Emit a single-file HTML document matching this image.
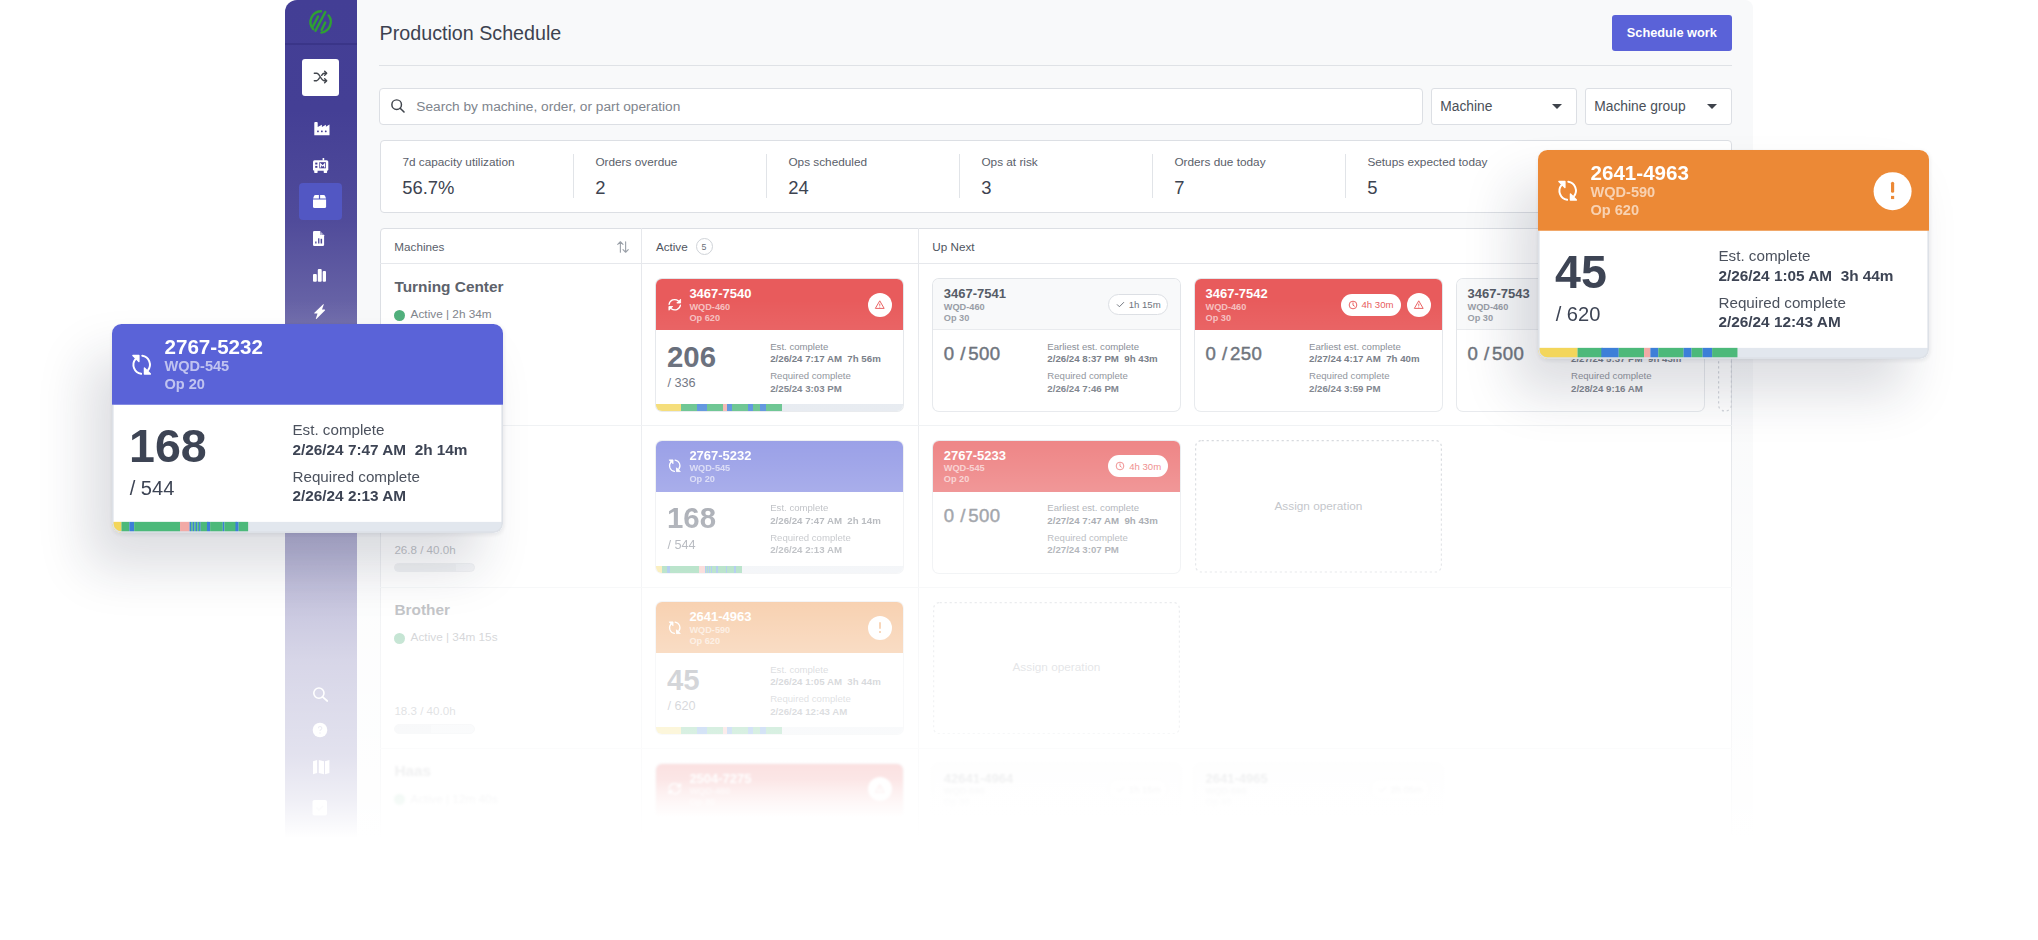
<!DOCTYPE html><html><head><meta charset="utf-8"><title>Production Schedule</title><style>
*{box-sizing:border-box;margin:0;padding:0}
html,body{width:2038px;height:940px;overflow:hidden;background:#fff;font-family:"Liberation Sans", sans-serif}
.card{position:absolute;width:247px;height:132px;border-radius:6px;background:#fff;overflow:hidden;box-shadow:0 0 0 1px #e3e6ea}
.card.next{box-shadow:0 0 0 1px #e2e5e9}
.hd{position:absolute;left:0;top:0;width:247px;height:51px}
.ic{position:absolute}
</style></head><body><div style="position:absolute;left:285px;top:0;width:1468px;height:940px;background:#f8f9fa;border-radius:12px 8px 0 0"></div><div style="position:absolute;left:285px;top:0;width:72px;height:940px;border-radius:12px 0 0 0;background:linear-gradient(#433e95 0px,#443f95 110px,#504b9a 220px,#6b67a8 320px,#6f6bab 560px,#7370ae 940px)"></div><div style="position:absolute;left:285px;top:43px;width:72px;height:1.5px;background:#3a3588"></div><svg width="32" height="32" viewBox="0 0 32 32" style="position:absolute;left:305px;top:6px"><g fill="none" stroke="#2fa034" stroke-width="2.4" stroke-linecap="round"><path d="M16 5.2A10.8 10.8 0 0 0 8.3 23.2"/><path d="M7.8 20.5L13 10.5"/><path d="M10.5 24.8L20.3 6"/><path d="M23.6 9.4A10.8 10.8 0 0 1 16.4 26.6"/><path d="M16.6 24L20.2 16.6"/></g></svg><div style="position:absolute;left:302px;top:59px;width:37px;height:36.5px;background:#fff;border-radius:3px"></div><svg width="16" height="16" viewBox="0 0 24 24" style="position:absolute;left:312.5px;top:69px"><g fill="none" stroke="#43474e" stroke-width="2.2" stroke-linecap="round" stroke-linejoin="round"><path d="M2 6.5h3.5c4.5 0 6.5 11 11 11H20"/><path d="M2 17.5h3.5c2 0 3.2-2 4.3-4.3M13 9.5c1.2-1.8 2.3-3 4-3H20"/><path d="M17.5 3.5l3 3-3 3M17.5 14.5l3 3-3 3"/></g></svg><div style="position:absolute;left:299px;top:183px;width:43px;height:37px;background:#5257c3;border-radius:4px"></div><svg width="16" height="14" viewBox="0 0 16 14" style="position:absolute;left:313.8px;top:121.9px"><path d="M0.3 13.2V0.9Q0.3 0 1.2 0H2.9Q3.7 0 3.7 0.9V4.9L7.9 2.7V4.9L11.9 2.7V4.8L15.5 2.6V13.2Z" fill="#fff"/><rect x="3.1" y="8.5" width="1.7" height="1.7" rx=".4" fill="#453f95"/><rect x="7" y="8.5" width="1.7" height="1.7" rx=".4" fill="#453f95"/><rect x="10.9" y="8.5" width="1.7" height="1.7" rx=".4" fill="#453f95"/></svg><svg width="16" height="15" viewBox="0 0 16 15" style="position:absolute;left:312.9px;top:157.8px"><rect x="0" y="2.2" width="15.3" height="10.6" rx="1.6" fill="#fff"/><rect x="1.2" y="12" width="3.4" height="2.9" rx=".6" fill="#fff"/><rect x="10.7" y="12" width="3.4" height="2.9" rx=".6" fill="#fff"/><rect x="9.6" y="0" width="1.6" height="2.6" fill="#fff"/><rect x="2.2" y="4.6" width="2.2" height="1.9" fill="#463f96"/><rect x="2.2" y="7.9" width="2.2" height="1.9" fill="#463f96"/><rect x="6.3" y="4.2" width="6.6" height="6.1" fill="#463f96"/><path d="M7.6 9.4V6l2.2 1.9L11.6 6v3.4" fill="none" stroke="#fff" stroke-width="1.1"/></svg><svg width="14" height="14" viewBox="0 0 14 14" style="position:absolute;left:313px;top:195.4px"><path d="M0 4.6H13.1V11.6Q13.1 13.1 11.6 13.1H1.5Q0 13.1 0 11.6Z" fill="#fff"/><path d="M2.6 0H5.9V3.6H0.1L0.8 1.4Q1.3 0 2.6 0ZM7.1 0H10.5Q11.8 0 12.3 1.4L13 3.6H7.1Z" fill="#fff"/></svg><svg width="12" height="16" viewBox="0 0 12 16" style="position:absolute;left:313px;top:231.2px"><path d="M1.3 0H6.9L11.1 4.2V13.7Q11.1 15 9.8 15H1.3Q0 15 0 13.7V1.3Q0 0 1.3 0Z" fill="#fff"/><path d="M7.3 0.8V3.8H10.3Z" fill="#4c4799"/><path d="M7.6 1.6V3.5H9.5Z" fill="#fff"/><rect x="2.2" y="10.5" width="1.3" height="2" fill="#4c4799"/><rect x="5.1" y="7.3" width="1.3" height="5.2" fill="#4c4799"/><rect x="7.6" y="7.8" width="1.5" height="4.7" fill="#4c4799"/></svg><svg width="14" height="14" viewBox="0 0 14 14" style="position:absolute;left:313px;top:269px"><rect x="0" y="5.1" width="3.8" height="7.7" rx="1" fill="#fff"/><rect x="4.8" y="0" width="3.9" height="12.8" rx="1" fill="#fff"/><rect x="9.7" y="1.9" width="3.3" height="10.9" rx="1" fill="#fff"/></svg><svg width="12" height="16" viewBox="0 0 12 16" style="position:absolute;left:313.9px;top:304.4px"><path d="M9.2 0.2Q9.9 -.1 9.7 .7L8 5.6H10.6Q11.4 5.7 10.9 6.4L2.4 14.9Q1.7 15.3 1.9 14.5L3.5 9.5H0.7Q-.1 9.4 .4 8.7Z" fill="#fff"/></svg><svg width="16" height="16" viewBox="0 0 16 16" style="position:absolute;left:312px;top:685.5px"><circle cx="6.9" cy="7.1" r="5.1" fill="none" stroke="#fff" stroke-width="1.6"/><path d="M10.6 10.8L15.3 15" stroke="#fff" stroke-width="1.7" stroke-linecap="round"/></svg><svg width="16" height="16" viewBox="0 0 16 16" style="position:absolute;left:312.3px;top:722.4px"><circle cx="8" cy="8" r="7.3" fill="#fff"/><path d="M6.4 6.3a1.7 1.7 0 1 1 2.4 1.5c-.5.3-.8.6-.8 1.2" fill="none" stroke="#a9a8cc" stroke-width="1.1"/><circle cx="8" cy="11" r=".7" fill="#a9a8cc"/></svg><svg width="17" height="15" viewBox="0 0 17 15" style="position:absolute;left:312.8px;top:760.4px"><path d="M0 1.2L4.1 0V13L0 14.2ZM5.8 0L11 1.2V14.2L5.8 13ZM12 1.2L16.4 0V13L12 14.2Z" fill="#fff"/></svg><svg width="16" height="18" viewBox="0 0 16 18" style="position:absolute;left:312px;top:797.6px"><rect x="0.5" y="2" width="14.5" height="15.5" rx="1.8" fill="#fff"/><path d="M4.5 9.5l2.5 2.5 4-4" stroke="#d8d7e8" stroke-width="1.6" fill="none"/></svg><div style="position:absolute;left:379.60px;top:23.92px;font-size:19.7px;line-height:19.7px;font-weight:400;color:#3c4250;white-space:nowrap;">Production Schedule</div><div style="position:absolute;left:1612px;top:15px;width:120px;height:36px;background:#5a62d8;border-radius:3px"></div><div style="position:absolute;left:1626.80px;top:27.41px;font-size:12.75px;line-height:12.75px;font-weight:700;color:#fff;white-space:nowrap;">Schedule work</div><div style="position:absolute;left:379px;top:65px;width:1353px;height:1px;background:#dfe2e6"></div><div style="position:absolute;left:379px;top:88px;width:1044px;height:36.5px;background:#fff;border:1px solid #dcdfe4;border-radius:4px"></div><svg width="16" height="16" viewBox="0 0 24 24" style="position:absolute;left:389.5px;top:98px"><circle cx="10" cy="10" r="7.2" fill="none" stroke="#3f444c" stroke-width="2.2"/><path d="M15.3 15.3L21 21" stroke="#3f444c" stroke-width="2.4" stroke-linecap="round"/></svg><div style="position:absolute;left:416.30px;top:99.70px;font-size:13.7px;line-height:13.7px;font-weight:400;color:#80858d;white-space:nowrap;">Search by machine, order, or part operation</div><div style="position:absolute;left:1431px;top:88px;width:146px;height:36.5px;background:#fff;border:1px solid #dcdfe4;border-radius:3px"></div><div style="position:absolute;left:1440.30px;top:100.32px;font-size:13.8px;line-height:13.8px;font-weight:400;color:#4a4f58;white-space:nowrap;">Machine</div><div style="position:absolute;left:1552px;top:104px;width:0;height:0;border-left:5.5px solid transparent;border-right:5.5px solid transparent;border-top:5.5px solid #3e434b"></div><div style="position:absolute;left:1585px;top:88px;width:147px;height:36.5px;background:#fff;border:1px solid #dcdfe4;border-radius:3px"></div><div style="position:absolute;left:1594.30px;top:100.32px;font-size:13.8px;line-height:13.8px;font-weight:400;color:#4a4f58;white-space:nowrap;">Machine group</div><div style="position:absolute;left:1707px;top:104px;width:0;height:0;border-left:5.5px solid transparent;border-right:5.5px solid transparent;border-top:5.5px solid #3e434b"></div><div style="position:absolute;left:379.5px;top:140px;width:1352.5px;height:72.5px;background:#fff;border:1px solid #dcdfe4;border-radius:4px"></div><div style="position:absolute;left:402.40px;top:157.01px;font-size:11.8px;line-height:11.8px;font-weight:400;color:#5a606a;white-space:nowrap;">7d capacity utilization</div><div style="position:absolute;left:402.20px;top:179.22px;font-size:18.4px;line-height:18.4px;font-weight:400;color:#3d4350;white-space:nowrap;">56.7%</div><div style="position:absolute;left:572.5px;top:154px;width:1px;height:43.5px;background:#e1e4e8"></div><div style="position:absolute;left:595.40px;top:157.01px;font-size:11.8px;line-height:11.8px;font-weight:400;color:#5a606a;white-space:nowrap;">Orders overdue</div><div style="position:absolute;left:595.20px;top:179.22px;font-size:18.4px;line-height:18.4px;font-weight:400;color:#3d4350;white-space:nowrap;">2</div><div style="position:absolute;left:765.5px;top:154px;width:1px;height:43.5px;background:#e1e4e8"></div><div style="position:absolute;left:788.40px;top:157.01px;font-size:11.8px;line-height:11.8px;font-weight:400;color:#5a606a;white-space:nowrap;">Ops scheduled</div><div style="position:absolute;left:788.20px;top:179.22px;font-size:18.4px;line-height:18.4px;font-weight:400;color:#3d4350;white-space:nowrap;">24</div><div style="position:absolute;left:958.5px;top:154px;width:1px;height:43.5px;background:#e1e4e8"></div><div style="position:absolute;left:981.40px;top:157.01px;font-size:11.8px;line-height:11.8px;font-weight:400;color:#5a606a;white-space:nowrap;">Ops at risk</div><div style="position:absolute;left:981.20px;top:179.22px;font-size:18.4px;line-height:18.4px;font-weight:400;color:#3d4350;white-space:nowrap;">3</div><div style="position:absolute;left:1151.5px;top:154px;width:1px;height:43.5px;background:#e1e4e8"></div><div style="position:absolute;left:1174.40px;top:157.01px;font-size:11.8px;line-height:11.8px;font-weight:400;color:#5a606a;white-space:nowrap;">Orders due today</div><div style="position:absolute;left:1174.20px;top:179.22px;font-size:18.4px;line-height:18.4px;font-weight:400;color:#3d4350;white-space:nowrap;">7</div><div style="position:absolute;left:1344.5px;top:154px;width:1px;height:43.5px;background:#e1e4e8"></div><div style="position:absolute;left:1367.40px;top:157.01px;font-size:11.8px;line-height:11.8px;font-weight:400;color:#5a606a;white-space:nowrap;">Setups expected today</div><div style="position:absolute;left:1367.20px;top:179.22px;font-size:18.4px;line-height:18.4px;font-weight:400;color:#3d4350;white-space:nowrap;">5</div><div style="position:absolute;left:1537.5px;top:154px;display:none;width:1px;height:43.5px;background:#e1e4e8"></div><div style="position:absolute;left:379.5px;top:228px;width:1352.5px;height:712px;background:#fff;border:1px solid #dcdfe4;border-radius:4px 4px 0 0"></div><div style="position:absolute;left:380px;top:263px;width:1352px;height:1px;background:#e6e8ec"></div><div style="position:absolute;left:641px;top:228px;width:1px;height:712px;background:#e6e8ec"></div><div style="position:absolute;left:918px;top:228px;width:1px;height:712px;background:#e6e8ec"></div><div style="position:absolute;left:380px;top:425px;width:1352px;height:1px;background:#eceef1"></div><div style="position:absolute;left:380px;top:586.5px;width:1352px;height:1px;background:#eceef1"></div><div style="position:absolute;left:380px;top:748px;width:1352px;height:1px;background:#eceef1"></div><div style="position:absolute;left:394.30px;top:241.00px;font-size:11.7px;line-height:11.7px;font-weight:400;color:#5a606a;white-space:nowrap;">Machines</div><svg width="14" height="14" viewBox="0 0 24 24" style="position:absolute;left:615.5px;top:239.5px"><g fill="none" stroke="#9aa0a8" stroke-width="1.9" stroke-linecap="round" stroke-linejoin="round"><path d="M7.5 21V3M3 7.5L7.5 3 12 7.5"/><path d="M16.5 3v18M12 16.5l4.5 4.5 4.5-4.5"/></g></svg><div style="position:absolute;left:655.90px;top:241.00px;font-size:11.7px;line-height:11.7px;font-weight:400;color:#4f5560;white-space:nowrap;">Active</div><div style="position:absolute;left:696px;top:238px;width:17px;height:17px;border:1px solid #cfd3d8;border-radius:50%"></div><div style="position:absolute;left:701.50px;top:242.55px;font-size:8.8px;line-height:8.8px;font-weight:400;color:#6a7079;white-space:nowrap;">5</div><div style="position:absolute;left:932.30px;top:241.00px;font-size:11.7px;line-height:11.7px;font-weight:400;color:#4f5560;white-space:nowrap;">Up Next</div><div style="position:absolute;left:394.40px;top:278.96px;font-size:15.4px;line-height:15.4px;font-weight:700;color:#5d626b;white-space:nowrap;">Turning Center</div><div style="position:absolute;left:393.8px;top:309.5px;width:11px;height:11px;border-radius:50%;background:#4cae79"></div><div style="position:absolute;left:410.60px;top:309.11px;font-size:11.8px;line-height:11.8px;font-weight:400;color:#7d828a;white-space:nowrap;">Active | 2h 34m</div><div style="position:absolute;left:394.40px;top:382.18px;font-size:11.6px;line-height:11.6px;font-weight:400;color:#80858d;white-space:nowrap;">32.1 / 40.0h</div><div style="position:absolute;left:394px;top:401.0px;width:81px;height:9.5px;border-radius:5px;background:#e9ecf0;border:1px solid #e0e3e7"></div><div style="position:absolute;left:395px;top:402.0px;width:49.6px;height:7.5px;border-radius:4px 0 0 4px;background:#dfe3e8"></div><div style="position:absolute;left:394.40px;top:440.46px;font-size:15.4px;line-height:15.4px;font-weight:700;color:#5d626b;white-space:nowrap;">Okuma</div><div style="position:absolute;left:393.8px;top:471px;width:11px;height:11px;border-radius:50%;background:#4cae79"></div><div style="position:absolute;left:410.60px;top:470.61px;font-size:11.8px;line-height:11.8px;font-weight:400;color:#7d828a;white-space:nowrap;">Active | 1h 12m</div><div style="position:absolute;left:394.40px;top:543.68px;font-size:11.6px;line-height:11.6px;font-weight:400;color:#80858d;white-space:nowrap;">26.8 / 40.0h</div><div style="position:absolute;left:394px;top:562.5px;width:81px;height:9.5px;border-radius:5px;background:#e9ecf0;border:1px solid #e0e3e7"></div><div style="position:absolute;left:395px;top:563.5px;width:60.8px;height:7.5px;border-radius:4px 0 0 4px;background:#dfe3e8"></div><div style="position:absolute;left:394.40px;top:601.96px;font-size:15.4px;line-height:15.4px;font-weight:700;color:#5d626b;white-space:nowrap;">Brother</div><div style="position:absolute;left:393.8px;top:632.5px;width:11px;height:11px;border-radius:50%;background:#4cae79"></div><div style="position:absolute;left:410.60px;top:632.11px;font-size:11.8px;line-height:11.8px;font-weight:400;color:#7d828a;white-space:nowrap;">Active | 34m 15s</div><div style="position:absolute;left:394.40px;top:705.18px;font-size:11.6px;line-height:11.6px;font-weight:400;color:#80858d;white-space:nowrap;">18.3 / 40.0h</div><div style="position:absolute;left:394px;top:724.0px;width:81px;height:9.5px;border-radius:5px;background:#e9ecf0;border:1px solid #e0e3e7"></div><div style="position:absolute;left:395px;top:725.0px;width:36.0px;height:7.5px;border-radius:4px 0 0 4px;background:#dfe3e8"></div><div style="position:absolute;left:0;top:0;width:700px;height:940px;opacity:.55;filter:blur(.8px)"><div style="position:absolute;left:394.40px;top:763.46px;font-size:15.4px;line-height:15.4px;font-weight:700;color:#5d626b;white-space:nowrap;">Haas</div><div style="position:absolute;left:393.8px;top:794px;width:11px;height:11px;border-radius:50%;background:#4cae79"></div><div style="position:absolute;left:410.60px;top:793.61px;font-size:11.8px;line-height:11.8px;font-weight:400;color:#7d828a;white-space:nowrap;">Active | 12m 40s</div></div><div class="card" style="left:656.2px;top:279.3px;"><div class="hd" style="background:#e85b5c"></div><svg viewBox="0 0 24 24" width="17.5" height="17.5" style="position:absolute;left:9.6px;top:16.7px;transform:rotate(0deg)"><g fill="none" stroke="#fff" stroke-width="1.7" stroke-linecap="round"><path d="M4.2 11.5A7.8 7.8 0 0 1 16.8 6.6"/><path d="M19.8 12.5A7.8 7.8 0 0 1 7.2 17.4"/></g><path d="M14.8 9.6L20 9.6L20 4.4Z" fill="#fff" stroke="#fff" stroke-width="1.2" stroke-linejoin="round"/><path d="M9.2 14.4L4 14.4L4 19.6Z" fill="#fff" stroke="#fff" stroke-width="1.2" stroke-linejoin="round"/></svg><div style="position:absolute;left:33.20px;top:8.10px;font-size:13px;line-height:13px;font-weight:700;color:#fff;white-space:nowrap;">3467-7540</div><div style="position:absolute;left:33.20px;top:23.31px;font-size:9.2px;line-height:9.2px;font-weight:700;color:rgba(255,255,255,.62);white-space:nowrap;">WQD-460</div><div style="position:absolute;left:33.20px;top:34.31px;font-size:9.2px;line-height:9.2px;font-weight:700;color:rgba(255,255,255,.62);white-space:nowrap;">Op 620</div><div style="position:absolute;left:211.8px;top:13.5px;width:24px;height:24px;border-radius:50%;background:#fff"><svg viewBox="0 0 24 24" width="11.5" height="11.5" style="position:absolute;left:6.25px;top:5.8px"><path d="M12 3.8L21.2 19.6H2.8Z" fill="none" stroke="#e85b5c" stroke-width="2" stroke-linejoin="round"/><path d="M12 9.8v4.4" stroke="#e85b5c" stroke-width="2"/><circle cx="12" cy="16.8" r="1.1" fill="#e85b5c"/></svg></div><div style="position:absolute;left:10.80px;top:62.31px;font-size:29.4px;line-height:29.4px;font-weight:700;color:#59606e;white-space:nowrap;">206</div><div style="position:absolute;left:11.20px;top:97.95px;font-size:12.7px;line-height:12.7px;font-weight:400;color:#59606e;white-space:nowrap;">/ 336</div><div style="position:absolute;left:114.00px;top:62.47px;font-size:9.6px;line-height:9.6px;font-weight:400;color:#80858e;white-space:nowrap;">Est. complete</div><div style="position:absolute;left:114.00px;top:75.09px;font-size:9.7px;line-height:9.7px;font-weight:700;color:#6a707a;white-space:nowrap;">2/26/24 7:17 AM&nbsp; 7h 56m</div><div style="position:absolute;left:114.00px;top:91.87px;font-size:9.6px;line-height:9.6px;font-weight:400;color:#80858e;white-space:nowrap;">Required complete</div><div style="position:absolute;left:114.00px;top:104.39px;font-size:9.7px;line-height:9.7px;font-weight:700;color:#6a707a;white-space:nowrap;">2/25/24 3:03 PM</div><div style="position:absolute;left:0;top:124.8px;width:247px;height:7.2px;background:#e2e7ee"><div style="position:absolute;left:0px;top:0;width:24.95px;height:100%;background:#f3d65b"></div><div style="position:absolute;left:24.7px;top:0;width:15.95px;height:100%;background:#4cb97a"></div><div style="position:absolute;left:40.4px;top:0;width:10.75px;height:100%;background:#3d7fd8"></div><div style="position:absolute;left:50.9px;top:0;width:16.05px;height:100%;background:#4cb97a"></div><div style="position:absolute;left:66.7px;top:0;width:4.45px;height:100%;background:#f2aaa6"></div><div style="position:absolute;left:70.9px;top:0;width:5.35px;height:100%;background:#3d7fd8"></div><div style="position:absolute;left:76px;top:0;width:16.15px;height:100%;background:#4cb97a"></div><div style="position:absolute;left:91.9px;top:0;width:5.05px;height:100%;background:#3d7fd8"></div><div style="position:absolute;left:96.7px;top:0;width:7.45px;height:100%;background:#4cb97a"></div><div style="position:absolute;left:103.9px;top:0;width:5.85px;height:100%;background:#3d7fd8"></div><div style="position:absolute;left:109.5px;top:0;width:16.65px;height:100%;background:#4cb97a"></div></div></div><div class="card next" style="left:933.3px;top:279.3px;"><div class="hd" style="background:#f8f9fa;border-bottom:1px solid #e8eaed"></div><div style="position:absolute;left:10.50px;top:8.10px;font-size:13px;line-height:13px;font-weight:700;color:#565c67;white-space:nowrap;">3467-7541</div><div style="position:absolute;left:10.50px;top:23.31px;font-size:9.2px;line-height:9.2px;font-weight:700;color:#979ca5;white-space:nowrap;">WQD-460</div><div style="position:absolute;left:10.50px;top:34.31px;font-size:9.2px;line-height:9.2px;font-weight:700;color:#979ca5;white-space:nowrap;">Op 30</div><div style="position:absolute;left:174.9px;top:14.7px;width:60px;height:21.5px;border-radius:11px;background:#fff;border:1px solid #dcdfe4"><svg viewBox="0 0 24 24" width="9" height="9" style="position:absolute;left:7px;top:5.3px"><path d="M3.5 12.5l5.5 5.5L20.5 6.5" fill="none" stroke="#6e737c" stroke-width="2.6" stroke-linecap="round" stroke-linejoin="round"/></svg><div style="position:absolute;left:19.5px;top:3.3px;font-size:9.6px;line-height:13px;color:#6e737c;white-space:nowrap">1h 15m</div></div><div style="position:absolute;left:10.50px;top:65.96px;font-size:18.6px;line-height:18.6px;font-weight:400;color:#60666f;white-space:nowrap;letter-spacing:.45px;-webkit-text-stroke:.45px #60666f">0&nbsp;/<span style="margin-left:2.4px">500</span></div><div style="position:absolute;left:114.00px;top:62.47px;font-size:9.6px;line-height:9.6px;font-weight:400;color:#80858e;white-space:nowrap;">Earliest est. complete</div><div style="position:absolute;left:114.00px;top:75.09px;font-size:9.7px;line-height:9.7px;font-weight:700;color:#6a707a;white-space:nowrap;">2/26/24 8:37 PM&nbsp; 9h 43m</div><div style="position:absolute;left:114.00px;top:91.87px;font-size:9.6px;line-height:9.6px;font-weight:400;color:#80858e;white-space:nowrap;">Required complete</div><div style="position:absolute;left:114.00px;top:104.39px;font-size:9.7px;line-height:9.7px;font-weight:700;color:#6a707a;white-space:nowrap;">2/26/24 7:46 PM</div></div><div class="card" style="left:1195px;top:279.3px;"><div class="hd" style="background:#e85b5c"></div><div style="position:absolute;left:10.50px;top:8.10px;font-size:13px;line-height:13px;font-weight:700;color:#fff;white-space:nowrap;">3467-7542</div><div style="position:absolute;left:10.50px;top:23.31px;font-size:9.2px;line-height:9.2px;font-weight:700;color:rgba(255,255,255,.62);white-space:nowrap;">WQD-460</div><div style="position:absolute;left:10.50px;top:34.31px;font-size:9.2px;line-height:9.2px;font-weight:700;color:rgba(255,255,255,.62);white-space:nowrap;">Op 30</div><div style="position:absolute;left:145.5px;top:14.7px;width:60px;height:22px;border-radius:11px;background:#fff"><svg viewBox="0 0 24 24" width="10" height="10" style="position:absolute;left:7.3px;top:6px"><circle cx="12" cy="12" r="9.2" fill="none" stroke="#e85b5c" stroke-width="2.3"/><path d="M12 6.8v5.6l3.2 2.2" fill="none" stroke="#e85b5c" stroke-width="2.3" stroke-linecap="round"/></svg><div style="position:absolute;left:21px;top:4.3px;font-size:9.6px;line-height:13px;color:#e85b5c;white-space:nowrap">4h 30m</div></div><div style="position:absolute;left:211.5px;top:13.5px;width:24px;height:24px;border-radius:50%;background:#fff"><svg viewBox="0 0 24 24" width="11.5" height="11.5" style="position:absolute;left:6.25px;top:5.8px"><path d="M12 3.8L21.2 19.6H2.8Z" fill="none" stroke="#e85b5c" stroke-width="2" stroke-linejoin="round"/><path d="M12 9.8v4.4" stroke="#e85b5c" stroke-width="2"/><circle cx="12" cy="16.8" r="1.1" fill="#e85b5c"/></svg></div><div style="position:absolute;left:10.50px;top:65.96px;font-size:18.6px;line-height:18.6px;font-weight:400;color:#60666f;white-space:nowrap;letter-spacing:.45px;-webkit-text-stroke:.45px #60666f">0&nbsp;/<span style="margin-left:2.4px">250</span></div><div style="position:absolute;left:114.00px;top:62.47px;font-size:9.6px;line-height:9.6px;font-weight:400;color:#80858e;white-space:nowrap;">Earliest est. complete</div><div style="position:absolute;left:114.00px;top:75.09px;font-size:9.7px;line-height:9.7px;font-weight:700;color:#6a707a;white-space:nowrap;">2/27/24 4:17 AM&nbsp; 7h 40m</div><div style="position:absolute;left:114.00px;top:91.87px;font-size:9.6px;line-height:9.6px;font-weight:400;color:#80858e;white-space:nowrap;">Required complete</div><div style="position:absolute;left:114.00px;top:104.39px;font-size:9.7px;line-height:9.7px;font-weight:700;color:#6a707a;white-space:nowrap;">2/26/24 3:59 PM</div></div><div class="card next" style="left:1457px;top:279.3px;"><div class="hd" style="background:#f8f9fa;border-bottom:1px solid #e8eaed"></div><div style="position:absolute;left:10.50px;top:8.10px;font-size:13px;line-height:13px;font-weight:700;color:#565c67;white-space:nowrap;">3467-7543</div><div style="position:absolute;left:10.50px;top:23.31px;font-size:9.2px;line-height:9.2px;font-weight:700;color:#979ca5;white-space:nowrap;">WQD-460</div><div style="position:absolute;left:10.50px;top:34.31px;font-size:9.2px;line-height:9.2px;font-weight:700;color:#979ca5;white-space:nowrap;">Op 30</div><div style="position:absolute;left:10.50px;top:65.96px;font-size:18.6px;line-height:18.6px;font-weight:400;color:#60666f;white-space:nowrap;letter-spacing:.45px;-webkit-text-stroke:.45px #60666f">0&nbsp;/<span style="margin-left:2.4px">500</span></div><div style="position:absolute;left:114.00px;top:62.47px;font-size:9.6px;line-height:9.6px;font-weight:400;color:#80858e;white-space:nowrap;">Earliest est. complete</div><div style="position:absolute;left:114.00px;top:75.09px;font-size:9.7px;line-height:9.7px;font-weight:700;color:#6a707a;white-space:nowrap;">2/27/24 5:37 PM&nbsp; 9h 43m</div><div style="position:absolute;left:114.00px;top:91.87px;font-size:9.6px;line-height:9.6px;font-weight:400;color:#80858e;white-space:nowrap;">Required complete</div><div style="position:absolute;left:114.00px;top:104.39px;font-size:9.7px;line-height:9.7px;font-weight:700;color:#6a707a;white-space:nowrap;">2/28/24 9:16 AM</div></div><svg width="14" height="133" style="position:absolute;left:1718px;top:279px"><rect x="0.6" y="0.6" width="12.8" height="131.4" rx="6" fill="none" stroke="#c9cdd3" stroke-width="1.2" stroke-dasharray="2.2 2.8"/></svg><div class="card" style="left:656.2px;top:440.8px;opacity:.82"><div class="hd" style="background:#5a63d8"></div><svg viewBox="0 0 24 24" width="17.5" height="17.5" style="position:absolute;left:9.6px;top:16.7px;transform:rotate(90deg)"><g fill="none" stroke="#fff" stroke-width="1.7" stroke-linecap="round"><path d="M4.2 11.5A7.8 7.8 0 0 1 16.8 6.6"/><path d="M19.8 12.5A7.8 7.8 0 0 1 7.2 17.4"/></g><path d="M14.8 9.6L20 9.6L20 4.4Z" fill="#fff" stroke="#fff" stroke-width="1.2" stroke-linejoin="round"/><path d="M9.2 14.4L4 14.4L4 19.6Z" fill="#fff" stroke="#fff" stroke-width="1.2" stroke-linejoin="round"/></svg><div style="position:absolute;left:33.20px;top:8.10px;font-size:13px;line-height:13px;font-weight:700;color:#fff;white-space:nowrap;">2767-5232</div><div style="position:absolute;left:33.20px;top:23.31px;font-size:9.2px;line-height:9.2px;font-weight:700;color:rgba(255,255,255,.62);white-space:nowrap;">WQD-545</div><div style="position:absolute;left:33.20px;top:34.31px;font-size:9.2px;line-height:9.2px;font-weight:700;color:rgba(255,255,255,.62);white-space:nowrap;">Op 20</div><div style="position:absolute;left:10.80px;top:62.31px;font-size:29.4px;line-height:29.4px;font-weight:700;color:#59606e;white-space:nowrap;">168</div><div style="position:absolute;left:11.20px;top:97.95px;font-size:12.7px;line-height:12.7px;font-weight:400;color:#59606e;white-space:nowrap;">/ 544</div><div style="position:absolute;left:114.00px;top:62.47px;font-size:9.6px;line-height:9.6px;font-weight:400;color:#80858e;white-space:nowrap;">Est. complete</div><div style="position:absolute;left:114.00px;top:75.09px;font-size:9.7px;line-height:9.7px;font-weight:700;color:#6a707a;white-space:nowrap;">2/26/24 7:47 AM&nbsp; 2h 14m</div><div style="position:absolute;left:114.00px;top:91.87px;font-size:9.6px;line-height:9.6px;font-weight:400;color:#80858e;white-space:nowrap;">Required complete</div><div style="position:absolute;left:114.00px;top:104.39px;font-size:9.7px;line-height:9.7px;font-weight:700;color:#6a707a;white-space:nowrap;">2/26/24 2:13 AM</div><div style="position:absolute;left:0;top:124.8px;width:247px;height:7.2px;background:#e2e7ee"><div style="position:absolute;left:0px;top:0;width:6.35px;height:100%;background:#f3d65b"></div><div style="position:absolute;left:6.1px;top:0;width:5.15px;height:100%;background:#4cb97a"></div><div style="position:absolute;left:11px;top:0;width:2.85px;height:100%;background:#3d7fd8"></div><div style="position:absolute;left:13.6px;top:0;width:29.15px;height:100%;background:#4cb97a"></div><div style="position:absolute;left:42.5px;top:0;width:6.35px;height:100%;background:#f2aaa6"></div><div style="position:absolute;left:48.9px;top:0;width:1.35px;height:100%;background:#3d7fd8"></div><div style="position:absolute;left:50px;top:0;width:1.05px;height:100%;background:#4cb97a"></div><div style="position:absolute;left:50.8px;top:0;width:1.35px;height:100%;background:#3d7fd8"></div><div style="position:absolute;left:51.9px;top:0;width:1.05px;height:100%;background:#4cb97a"></div><div style="position:absolute;left:52.7px;top:0;width:1.35px;height:100%;background:#3d7fd8"></div><div style="position:absolute;left:53.8px;top:0;width:1.05px;height:100%;background:#4cb97a"></div><div style="position:absolute;left:54.6px;top:0;width:1.25px;height:100%;background:#3d7fd8"></div><div style="position:absolute;left:55.6px;top:0;width:4.95px;height:100%;background:#4cb97a"></div><div style="position:absolute;left:60.3px;top:0;width:2.05px;height:100%;background:#3d7fd8"></div><div style="position:absolute;left:62.1px;top:0;width:7.75px;height:100%;background:#4cb97a"></div><div style="position:absolute;left:69.6px;top:0;width:1.65px;height:100%;background:#3d7fd8"></div><div style="position:absolute;left:71px;top:0;width:7.55px;height:100%;background:#4cb97a"></div><div style="position:absolute;left:78.3px;top:0;width:2.05px;height:100%;background:#3d7fd8"></div><div style="position:absolute;left:80.1px;top:0;width:5.45px;height:100%;background:#4cb97a"></div></div></div><div class="card" style="left:933.3px;top:440.8px;"><div class="hd" style="background:#e85b5c"></div><div style="position:absolute;left:10.50px;top:8.10px;font-size:13px;line-height:13px;font-weight:700;color:#fff;white-space:nowrap;">2767-5233</div><div style="position:absolute;left:10.50px;top:23.31px;font-size:9.2px;line-height:9.2px;font-weight:700;color:rgba(255,255,255,.62);white-space:nowrap;">WQD-545</div><div style="position:absolute;left:10.50px;top:34.31px;font-size:9.2px;line-height:9.2px;font-weight:700;color:rgba(255,255,255,.62);white-space:nowrap;">Op 20</div><div style="position:absolute;left:174.9px;top:14.7px;width:60px;height:22px;border-radius:11px;background:#fff"><svg viewBox="0 0 24 24" width="10" height="10" style="position:absolute;left:7.3px;top:6px"><circle cx="12" cy="12" r="9.2" fill="none" stroke="#e85b5c" stroke-width="2.3"/><path d="M12 6.8v5.6l3.2 2.2" fill="none" stroke="#e85b5c" stroke-width="2.3" stroke-linecap="round"/></svg><div style="position:absolute;left:21px;top:4.3px;font-size:9.6px;line-height:13px;color:#e85b5c;white-space:nowrap">4h 30m</div></div><div style="position:absolute;left:10.50px;top:65.96px;font-size:18.6px;line-height:18.6px;font-weight:400;color:#60666f;white-space:nowrap;letter-spacing:.45px;-webkit-text-stroke:.45px #60666f">0&nbsp;/<span style="margin-left:2.4px">500</span></div><div style="position:absolute;left:114.00px;top:62.47px;font-size:9.6px;line-height:9.6px;font-weight:400;color:#80858e;white-space:nowrap;">Earliest est. complete</div><div style="position:absolute;left:114.00px;top:75.09px;font-size:9.7px;line-height:9.7px;font-weight:700;color:#6a707a;white-space:nowrap;">2/27/24 7:47 AM&nbsp; 9h 43m</div><div style="position:absolute;left:114.00px;top:91.87px;font-size:9.6px;line-height:9.6px;font-weight:400;color:#80858e;white-space:nowrap;">Required complete</div><div style="position:absolute;left:114.00px;top:104.39px;font-size:9.7px;line-height:9.7px;font-weight:700;color:#6a707a;white-space:nowrap;">2/27/24 3:07 PM</div></div><div style="position:absolute;left:1195px;top:440.3px;width:247px;height:132.6px"><svg width="247" height="132.6" style="position:absolute;left:0;top:0"><rect x="0.6" y="0.6" width="245.8" height="131.4" rx="6" fill="none" stroke="#c9cdd3" stroke-width="1.2" stroke-dasharray="2.2 2.8"/></svg><div style="position:absolute;left:79.50px;top:60.31px;font-size:11.8px;line-height:11.8px;font-weight:400;color:#9ca1a9;white-space:nowrap;">Assign operation</div></div><div class="card" style="left:656.2px;top:602.3px;"><div class="hd" style="background:#ec8936"></div><svg viewBox="0 0 24 24" width="17.5" height="17.5" style="position:absolute;left:9.6px;top:16.7px;transform:rotate(90deg)"><g fill="none" stroke="#fff" stroke-width="1.7" stroke-linecap="round"><path d="M4.2 11.5A7.8 7.8 0 0 1 16.8 6.6"/><path d="M19.8 12.5A7.8 7.8 0 0 1 7.2 17.4"/></g><path d="M14.8 9.6L20 9.6L20 4.4Z" fill="#fff" stroke="#fff" stroke-width="1.2" stroke-linejoin="round"/><path d="M9.2 14.4L4 14.4L4 19.6Z" fill="#fff" stroke="#fff" stroke-width="1.2" stroke-linejoin="round"/></svg><div style="position:absolute;left:33.20px;top:8.10px;font-size:13px;line-height:13px;font-weight:700;color:#fff;white-space:nowrap;">2641-4963</div><div style="position:absolute;left:33.20px;top:23.31px;font-size:9.2px;line-height:9.2px;font-weight:700;color:rgba(255,255,255,.62);white-space:nowrap;">WQD-590</div><div style="position:absolute;left:33.20px;top:34.31px;font-size:9.2px;line-height:9.2px;font-weight:700;color:rgba(255,255,255,.62);white-space:nowrap;">Op 620</div><div style="position:absolute;left:211.8px;top:13.5px;width:24px;height:24px;border-radius:50%;background:#fff"><div style="position:absolute;left:11.2px;top:6.5px;width:1.6px;height:7px;background:#ec8936;border-radius:1px"></div><div style="position:absolute;left:11.2px;top:15.5px;width:1.6px;height:1.8px;background:#ec8936"></div></div><div style="position:absolute;left:10.80px;top:62.31px;font-size:29.4px;line-height:29.4px;font-weight:700;color:#59606e;white-space:nowrap;">45</div><div style="position:absolute;left:11.20px;top:97.95px;font-size:12.7px;line-height:12.7px;font-weight:400;color:#59606e;white-space:nowrap;">/ 620</div><div style="position:absolute;left:114.00px;top:62.47px;font-size:9.6px;line-height:9.6px;font-weight:400;color:#80858e;white-space:nowrap;">Est. complete</div><div style="position:absolute;left:114.00px;top:75.09px;font-size:9.7px;line-height:9.7px;font-weight:700;color:#6a707a;white-space:nowrap;">2/26/24 1:05 AM&nbsp; 3h 44m</div><div style="position:absolute;left:114.00px;top:91.87px;font-size:9.6px;line-height:9.6px;font-weight:400;color:#80858e;white-space:nowrap;">Required complete</div><div style="position:absolute;left:114.00px;top:104.39px;font-size:9.7px;line-height:9.7px;font-weight:700;color:#6a707a;white-space:nowrap;">2/26/24 12:43 AM</div><div style="position:absolute;left:0;top:124.8px;width:247px;height:7.2px;background:#e2e7ee"><div style="position:absolute;left:0px;top:0;width:24.95px;height:100%;background:#f3d65b"></div><div style="position:absolute;left:24.7px;top:0;width:15.95px;height:100%;background:#4cb97a"></div><div style="position:absolute;left:40.4px;top:0;width:10.75px;height:100%;background:#3d7fd8"></div><div style="position:absolute;left:50.9px;top:0;width:16.05px;height:100%;background:#4cb97a"></div><div style="position:absolute;left:66.7px;top:0;width:4.45px;height:100%;background:#f2aaa6"></div><div style="position:absolute;left:70.9px;top:0;width:5.35px;height:100%;background:#3d7fd8"></div><div style="position:absolute;left:76px;top:0;width:16.15px;height:100%;background:#4cb97a"></div><div style="position:absolute;left:91.9px;top:0;width:5.05px;height:100%;background:#3d7fd8"></div><div style="position:absolute;left:96.7px;top:0;width:7.45px;height:100%;background:#4cb97a"></div><div style="position:absolute;left:103.9px;top:0;width:5.85px;height:100%;background:#3d7fd8"></div><div style="position:absolute;left:109.5px;top:0;width:16.65px;height:100%;background:#4cb97a"></div></div></div><div style="position:absolute;left:933px;top:601.5px;width:247px;height:132.5px"><svg width="247" height="132.5" style="position:absolute;left:0;top:0"><rect x="0.6" y="0.6" width="245.8" height="131.3" rx="6" fill="none" stroke="#c9cdd3" stroke-width="1.2" stroke-dasharray="2.2 2.8"/></svg><div style="position:absolute;left:79.50px;top:60.26px;font-size:11.8px;line-height:11.8px;font-weight:400;color:#9ca1a9;white-space:nowrap;">Assign operation</div></div><div style="position:absolute;left:0;top:0;width:2038px;height:940px;filter:blur(1px);-webkit-mask-image:linear-gradient(#000 780px,transparent 822px);mask-image:linear-gradient(#000 780px,transparent 822px)"><div class="card" style="left:656.2px;top:763.8px;"><div class="hd" style="background:#e85b5c"></div><svg viewBox="0 0 24 24" width="17.5" height="17.5" style="position:absolute;left:9.6px;top:16.7px;transform:rotate(0deg)"><g fill="none" stroke="#fff" stroke-width="1.7" stroke-linecap="round"><path d="M4.2 11.5A7.8 7.8 0 0 1 16.8 6.6"/><path d="M19.8 12.5A7.8 7.8 0 0 1 7.2 17.4"/></g><path d="M14.8 9.6L20 9.6L20 4.4Z" fill="#fff" stroke="#fff" stroke-width="1.2" stroke-linejoin="round"/><path d="M9.2 14.4L4 14.4L4 19.6Z" fill="#fff" stroke="#fff" stroke-width="1.2" stroke-linejoin="round"/></svg><div style="position:absolute;left:33.20px;top:8.10px;font-size:13px;line-height:13px;font-weight:700;color:#fff;white-space:nowrap;">2504-7275</div><div style="position:absolute;left:33.20px;top:23.31px;font-size:9.2px;line-height:9.2px;font-weight:700;color:rgba(255,255,255,.62);white-space:nowrap;">WQD-460</div><div style="position:absolute;left:33.20px;top:34.31px;font-size:9.2px;line-height:9.2px;font-weight:700;color:rgba(255,255,255,.62);white-space:nowrap;">Op 30</div><div style="position:absolute;left:211.8px;top:13.5px;width:24px;height:24px;border-radius:50%;background:#fff"><svg viewBox="0 0 24 24" width="11.5" height="11.5" style="position:absolute;left:6.25px;top:5.8px"><path d="M12 3.8L21.2 19.6H2.8Z" fill="none" stroke="#e85b5c" stroke-width="2" stroke-linejoin="round"/><path d="M12 9.8v4.4" stroke="#e85b5c" stroke-width="2"/><circle cx="12" cy="16.8" r="1.1" fill="#e85b5c"/></svg></div><div style="position:absolute;left:10.80px;top:62.31px;font-size:29.4px;line-height:29.4px;font-weight:700;color:#59606e;white-space:nowrap;">88</div><div style="position:absolute;left:11.20px;top:97.95px;font-size:12.7px;line-height:12.7px;font-weight:400;color:#59606e;white-space:nowrap;">/ 300</div><div style="position:absolute;left:114.00px;top:62.47px;font-size:9.6px;line-height:9.6px;font-weight:400;color:#80858e;white-space:nowrap;">Est. complete</div><div style="position:absolute;left:114.00px;top:75.09px;font-size:9.7px;line-height:9.7px;font-weight:700;color:#6a707a;white-space:nowrap;">2/26/24 9:05 AM&nbsp; 5h 10m</div><div style="position:absolute;left:114.00px;top:91.87px;font-size:9.6px;line-height:9.6px;font-weight:400;color:#80858e;white-space:nowrap;">Required complete</div><div style="position:absolute;left:114.00px;top:104.39px;font-size:9.7px;line-height:9.7px;font-weight:700;color:#6a707a;white-space:nowrap;">2/26/24 6:00 PM</div><div style="position:absolute;left:0;top:124.8px;width:247px;height:7.2px;background:#e2e7ee"><div style="position:absolute;left:0px;top:0;width:24.95px;height:100%;background:#f3d65b"></div><div style="position:absolute;left:24.7px;top:0;width:15.95px;height:100%;background:#4cb97a"></div><div style="position:absolute;left:40.4px;top:0;width:10.75px;height:100%;background:#3d7fd8"></div><div style="position:absolute;left:50.9px;top:0;width:16.05px;height:100%;background:#4cb97a"></div><div style="position:absolute;left:66.7px;top:0;width:4.45px;height:100%;background:#f2aaa6"></div><div style="position:absolute;left:70.9px;top:0;width:5.35px;height:100%;background:#3d7fd8"></div><div style="position:absolute;left:76px;top:0;width:16.15px;height:100%;background:#4cb97a"></div><div style="position:absolute;left:91.9px;top:0;width:5.05px;height:100%;background:#3d7fd8"></div><div style="position:absolute;left:96.7px;top:0;width:7.45px;height:100%;background:#4cb97a"></div><div style="position:absolute;left:103.9px;top:0;width:5.85px;height:100%;background:#3d7fd8"></div><div style="position:absolute;left:109.5px;top:0;width:16.65px;height:100%;background:#4cb97a"></div></div></div><div style="position:absolute;left:0;top:0;width:2038px;height:940px;opacity:.6"><div class="card next" style="left:933.3px;top:763.8px;"><div class="hd" style="background:#f8f9fa;border-bottom:1px solid #e8eaed"></div><div style="position:absolute;left:10.50px;top:8.10px;font-size:13px;line-height:13px;font-weight:700;color:#565c67;white-space:nowrap;">42641-4964</div><div style="position:absolute;left:10.50px;top:23.31px;font-size:9.2px;line-height:9.2px;font-weight:700;color:#979ca5;white-space:nowrap;">WQD-590</div><div style="position:absolute;left:10.50px;top:34.31px;font-size:9.2px;line-height:9.2px;font-weight:700;color:#979ca5;white-space:nowrap;">Op 30</div><div style="position:absolute;left:174.9px;top:14.7px;width:60px;height:21.5px;border-radius:11px;background:#fff;border:1px solid #dcdfe4"><svg viewBox="0 0 24 24" width="9" height="9" style="position:absolute;left:7px;top:5.3px"><path d="M3.5 12.5l5.5 5.5L20.5 6.5" fill="none" stroke="#6e737c" stroke-width="2.6" stroke-linecap="round" stroke-linejoin="round"/></svg><div style="position:absolute;left:19.5px;top:3.3px;font-size:9.6px;line-height:13px;color:#6e737c;white-space:nowrap">1h 15m</div></div><div style="position:absolute;left:10.50px;top:65.96px;font-size:18.6px;line-height:18.6px;font-weight:400;color:#60666f;white-space:nowrap;letter-spacing:.45px;-webkit-text-stroke:.45px #60666f">0&nbsp;/<span style="margin-left:2.4px">400</span></div><div style="position:absolute;left:114.00px;top:62.47px;font-size:9.6px;line-height:9.6px;font-weight:400;color:#80858e;white-space:nowrap;">Earliest est. complete</div><div style="position:absolute;left:114.00px;top:75.09px;font-size:9.7px;line-height:9.7px;font-weight:700;color:#6a707a;white-space:nowrap;">2/27/24 7:47 AM&nbsp; 9h 43m</div><div style="position:absolute;left:114.00px;top:91.87px;font-size:9.6px;line-height:9.6px;font-weight:400;color:#80858e;white-space:nowrap;">Required complete</div><div style="position:absolute;left:114.00px;top:104.39px;font-size:9.7px;line-height:9.7px;font-weight:700;color:#6a707a;white-space:nowrap;">2/27/24 3:07 PM</div></div><div class="card next" style="left:1195px;top:763.8px;"><div class="hd" style="background:#f8f9fa;border-bottom:1px solid #e8eaed"></div><div style="position:absolute;left:10.50px;top:8.10px;font-size:13px;line-height:13px;font-weight:700;color:#565c67;white-space:nowrap;">2641-4965</div><div style="position:absolute;left:10.50px;top:23.31px;font-size:9.2px;line-height:9.2px;font-weight:700;color:#979ca5;white-space:nowrap;">WQD-590</div><div style="position:absolute;left:10.50px;top:34.31px;font-size:9.2px;line-height:9.2px;font-weight:700;color:#979ca5;white-space:nowrap;">Op 40</div><div style="position:absolute;left:174.9px;top:14.7px;width:60px;height:21.5px;border-radius:11px;background:#fff;border:1px solid #dcdfe4"><svg viewBox="0 0 24 24" width="9" height="9" style="position:absolute;left:7px;top:5.3px"><path d="M3.5 12.5l5.5 5.5L20.5 6.5" fill="none" stroke="#6e737c" stroke-width="2.6" stroke-linecap="round" stroke-linejoin="round"/></svg><div style="position:absolute;left:19.5px;top:3.3px;font-size:9.6px;line-height:13px;color:#6e737c;white-space:nowrap">2h 05m</div></div><div style="position:absolute;left:10.50px;top:65.96px;font-size:18.6px;line-height:18.6px;font-weight:400;color:#60666f;white-space:nowrap;letter-spacing:.45px;-webkit-text-stroke:.45px #60666f">0&nbsp;/<span style="margin-left:2.4px">400</span></div><div style="position:absolute;left:114.00px;top:62.47px;font-size:9.6px;line-height:9.6px;font-weight:400;color:#80858e;white-space:nowrap;">Earliest est. complete</div><div style="position:absolute;left:114.00px;top:75.09px;font-size:9.7px;line-height:9.7px;font-weight:700;color:#6a707a;white-space:nowrap;">2/27/24 7:47 AM&nbsp; 9h 43m</div><div style="position:absolute;left:114.00px;top:91.87px;font-size:9.6px;line-height:9.6px;font-weight:400;color:#80858e;white-space:nowrap;">Required complete</div><div style="position:absolute;left:114.00px;top:104.39px;font-size:9.7px;line-height:9.7px;font-weight:700;color:#6a707a;white-space:nowrap;">2/27/24 3:07 PM</div></div></div></div><div style="position:absolute;left:0;top:0;width:2038px;height:940px;background:linear-gradient(rgba(255,255,255,0) 0px,rgba(255,255,255,0) 300px,rgba(255,255,255,.31) 466px,rgba(255,255,255,.62) 605px,rgba(255,255,255,.72) 660px,rgba(255,255,255,.80) 755px,rgba(255,255,255,.89) 800px,#fff 838px)"></div><div style="position:absolute;left:112.4px;top:323.5px;width:247px;height:132px;transform:scale(1.583);transform-origin:0 0;border-radius:6px;box-shadow:-15px 22px 32px rgba(30,35,60,.15),0 1px 3px rgba(30,35,60,.08)"><div class="card" style="box-shadow:none;left:0px;top:0px;"><div class="hd" style="background:#5a63d8"></div><svg viewBox="0 0 24 24" width="17.5" height="17.5" style="position:absolute;left:9.6px;top:16.7px;transform:rotate(90deg)"><g fill="none" stroke="#fff" stroke-width="1.7" stroke-linecap="round"><path d="M4.2 11.5A7.8 7.8 0 0 1 16.8 6.6"/><path d="M19.8 12.5A7.8 7.8 0 0 1 7.2 17.4"/></g><path d="M14.8 9.6L20 9.6L20 4.4Z" fill="#fff" stroke="#fff" stroke-width="1.2" stroke-linejoin="round"/><path d="M9.2 14.4L4 14.4L4 19.6Z" fill="#fff" stroke="#fff" stroke-width="1.2" stroke-linejoin="round"/></svg><div style="position:absolute;left:33.20px;top:8.10px;font-size:13px;line-height:13px;font-weight:700;color:#fff;white-space:nowrap;">2767-5232</div><div style="position:absolute;left:33.20px;top:23.31px;font-size:9.2px;line-height:9.2px;font-weight:700;color:rgba(255,255,255,.62);white-space:nowrap;">WQD-545</div><div style="position:absolute;left:33.20px;top:34.31px;font-size:9.2px;line-height:9.2px;font-weight:700;color:rgba(255,255,255,.62);white-space:nowrap;">Op 20</div><div style="position:absolute;left:10.80px;top:62.31px;font-size:29.4px;line-height:29.4px;font-weight:700;color:#3d4454;white-space:nowrap;">168</div><div style="position:absolute;left:11.20px;top:97.95px;font-size:12.7px;line-height:12.7px;font-weight:400;color:#3d4454;white-space:nowrap;">/ 544</div><div style="position:absolute;left:114.00px;top:62.47px;font-size:9.6px;line-height:9.6px;font-weight:400;color:#4b515d;white-space:nowrap;">Est. complete</div><div style="position:absolute;left:114.00px;top:75.09px;font-size:9.7px;line-height:9.7px;font-weight:700;color:#3d4454;white-space:nowrap;">2/26/24 7:47 AM&nbsp; 2h 14m</div><div style="position:absolute;left:114.00px;top:91.87px;font-size:9.6px;line-height:9.6px;font-weight:400;color:#4b515d;white-space:nowrap;">Required complete</div><div style="position:absolute;left:114.00px;top:104.39px;font-size:9.7px;line-height:9.7px;font-weight:700;color:#3d4454;white-space:nowrap;">2/26/24 2:13 AM</div><div style="position:absolute;left:0;top:124.8px;width:247px;height:7.2px;background:#e2e7ee"><div style="position:absolute;left:0px;top:0;width:6.35px;height:100%;background:#f3d65b"></div><div style="position:absolute;left:6.1px;top:0;width:5.15px;height:100%;background:#4cb97a"></div><div style="position:absolute;left:11px;top:0;width:2.85px;height:100%;background:#3d7fd8"></div><div style="position:absolute;left:13.6px;top:0;width:29.15px;height:100%;background:#4cb97a"></div><div style="position:absolute;left:42.5px;top:0;width:6.35px;height:100%;background:#f2aaa6"></div><div style="position:absolute;left:48.9px;top:0;width:1.35px;height:100%;background:#3d7fd8"></div><div style="position:absolute;left:50px;top:0;width:1.05px;height:100%;background:#4cb97a"></div><div style="position:absolute;left:50.8px;top:0;width:1.35px;height:100%;background:#3d7fd8"></div><div style="position:absolute;left:51.9px;top:0;width:1.05px;height:100%;background:#4cb97a"></div><div style="position:absolute;left:52.7px;top:0;width:1.35px;height:100%;background:#3d7fd8"></div><div style="position:absolute;left:53.8px;top:0;width:1.05px;height:100%;background:#4cb97a"></div><div style="position:absolute;left:54.6px;top:0;width:1.25px;height:100%;background:#3d7fd8"></div><div style="position:absolute;left:55.6px;top:0;width:4.95px;height:100%;background:#4cb97a"></div><div style="position:absolute;left:60.3px;top:0;width:2.05px;height:100%;background:#3d7fd8"></div><div style="position:absolute;left:62.1px;top:0;width:7.75px;height:100%;background:#4cb97a"></div><div style="position:absolute;left:69.6px;top:0;width:1.65px;height:100%;background:#3d7fd8"></div><div style="position:absolute;left:71px;top:0;width:7.55px;height:100%;background:#4cb97a"></div><div style="position:absolute;left:78.3px;top:0;width:2.05px;height:100%;background:#3d7fd8"></div><div style="position:absolute;left:80.1px;top:0;width:5.45px;height:100%;background:#4cb97a"></div></div><div style="position:absolute;left:0;top:51px;width:247px;height:81px;border:0.7px solid #dde1e7;border-top:none;border-radius:0 0 6px 6px"></div></div></div><div style="position:absolute;left:1538.3px;top:150.4px;width:247px;height:132px;transform:scale(1.583);transform-origin:0 0;border-radius:6px;box-shadow:-15px 22px 32px rgba(30,35,60,.15),0 1px 3px rgba(30,35,60,.08)"><div class="card" style="box-shadow:none;left:0px;top:0px;"><div class="hd" style="background:#ec8936"></div><svg viewBox="0 0 24 24" width="17.5" height="17.5" style="position:absolute;left:9.6px;top:16.7px;transform:rotate(90deg)"><g fill="none" stroke="#fff" stroke-width="1.7" stroke-linecap="round"><path d="M4.2 11.5A7.8 7.8 0 0 1 16.8 6.6"/><path d="M19.8 12.5A7.8 7.8 0 0 1 7.2 17.4"/></g><path d="M14.8 9.6L20 9.6L20 4.4Z" fill="#fff" stroke="#fff" stroke-width="1.2" stroke-linejoin="round"/><path d="M9.2 14.4L4 14.4L4 19.6Z" fill="#fff" stroke="#fff" stroke-width="1.2" stroke-linejoin="round"/></svg><div style="position:absolute;left:33.20px;top:8.10px;font-size:13px;line-height:13px;font-weight:700;color:#fff;white-space:nowrap;">2641-4963</div><div style="position:absolute;left:33.20px;top:23.31px;font-size:9.2px;line-height:9.2px;font-weight:700;color:rgba(255,255,255,.62);white-space:nowrap;">WQD-590</div><div style="position:absolute;left:33.20px;top:34.31px;font-size:9.2px;line-height:9.2px;font-weight:700;color:rgba(255,255,255,.62);white-space:nowrap;">Op 620</div><div style="position:absolute;left:211.8px;top:13.5px;width:24px;height:24px;border-radius:50%;background:#fff"><div style="position:absolute;left:11.2px;top:6.5px;width:1.6px;height:7px;background:#ec8936;border-radius:1px"></div><div style="position:absolute;left:11.2px;top:15.5px;width:1.6px;height:1.8px;background:#ec8936"></div></div><div style="position:absolute;left:10.80px;top:62.31px;font-size:29.4px;line-height:29.4px;font-weight:700;color:#3d4454;white-space:nowrap;">45</div><div style="position:absolute;left:11.20px;top:97.95px;font-size:12.7px;line-height:12.7px;font-weight:400;color:#3d4454;white-space:nowrap;">/ 620</div><div style="position:absolute;left:114.00px;top:62.47px;font-size:9.6px;line-height:9.6px;font-weight:400;color:#4b515d;white-space:nowrap;">Est. complete</div><div style="position:absolute;left:114.00px;top:75.09px;font-size:9.7px;line-height:9.7px;font-weight:700;color:#3d4454;white-space:nowrap;">2/26/24 1:05 AM&nbsp; 3h 44m</div><div style="position:absolute;left:114.00px;top:91.87px;font-size:9.6px;line-height:9.6px;font-weight:400;color:#4b515d;white-space:nowrap;">Required complete</div><div style="position:absolute;left:114.00px;top:104.39px;font-size:9.7px;line-height:9.7px;font-weight:700;color:#3d4454;white-space:nowrap;">2/26/24 12:43 AM</div><div style="position:absolute;left:0;top:124.8px;width:247px;height:7.2px;background:#e2e7ee"><div style="position:absolute;left:0px;top:0;width:24.95px;height:100%;background:#f3d65b"></div><div style="position:absolute;left:24.7px;top:0;width:15.95px;height:100%;background:#4cb97a"></div><div style="position:absolute;left:40.4px;top:0;width:10.75px;height:100%;background:#3d7fd8"></div><div style="position:absolute;left:50.9px;top:0;width:16.05px;height:100%;background:#4cb97a"></div><div style="position:absolute;left:66.7px;top:0;width:4.45px;height:100%;background:#f2aaa6"></div><div style="position:absolute;left:70.9px;top:0;width:5.35px;height:100%;background:#3d7fd8"></div><div style="position:absolute;left:76px;top:0;width:16.15px;height:100%;background:#4cb97a"></div><div style="position:absolute;left:91.9px;top:0;width:5.05px;height:100%;background:#3d7fd8"></div><div style="position:absolute;left:96.7px;top:0;width:7.45px;height:100%;background:#4cb97a"></div><div style="position:absolute;left:103.9px;top:0;width:5.85px;height:100%;background:#3d7fd8"></div><div style="position:absolute;left:109.5px;top:0;width:16.65px;height:100%;background:#4cb97a"></div></div><div style="position:absolute;left:0;top:51px;width:247px;height:81px;border:0.7px solid #dde1e7;border-top:none;border-radius:0 0 6px 6px"></div></div></div></body></html>
